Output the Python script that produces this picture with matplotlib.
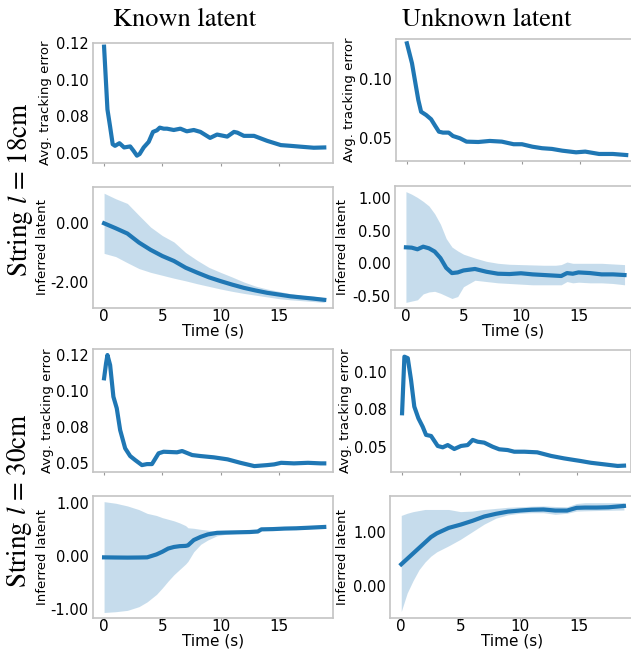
import matplotlib
matplotlib.use("Agg")
import matplotlib.pyplot as plt
from matplotlib.ticker import FormatStrFormatter

# ---- data ----
col_titles = ["Known latent", "Unknown latent"]
row_titles = ["String $l$ = 18cm", "String $l$ = 30cm"]

# tracking error, l = 18cm, known latent
t_err_k18 = [0.0, 0.29, 0.51, 0.74, 0.94, 1.32, 1.72, 2.24, 2.53, 2.82, 3.05, 3.4, 3.83, 4.2,
             4.54, 4.78, 5.12, 5.4, 5.98, 6.55, 7.1, 7.7, 8.27, 9.1, 9.7, 10.57, 11.15, 11.44,
             12.0, 12.87, 14.0, 15.17, 16.0, 16.9, 18.0, 18.9]
err_k18 = [0.1225, 0.0797, 0.0684, 0.056, 0.0549, 0.0567, 0.0538, 0.0545, 0.0515, 0.0482, 0.0493,
           0.0538, 0.0576, 0.0644, 0.0655, 0.0673, 0.0666, 0.0666, 0.0657, 0.0666, 0.0648, 0.0657,
           0.0644, 0.0603, 0.0626, 0.0612, 0.0644, 0.0639, 0.0617, 0.0617, 0.0583, 0.0554, 0.0549,
           0.0543, 0.0536, 0.0538]

# tracking error, l = 18cm, unknown latent
t_err_u18 = [0.0, 0.44, 0.79, 0.99, 1.23, 1.67, 2.1, 2.46, 2.78, 3.13, 3.63, 4.0, 4.6, 5.18, 6.2,
             7.2, 8.25, 9.27, 10.0, 10.9, 11.75, 12.6, 13.5, 14.7, 15.5, 16.7, 17.9, 19.06]
err_u18 = [0.1304, 0.1134, 0.0934, 0.0821, 0.0721, 0.0693, 0.0657, 0.0600, 0.0551, 0.0543, 0.0543,
           0.0514, 0.0495, 0.0466, 0.0463, 0.0472, 0.0466, 0.0444, 0.0444, 0.0423, 0.0410, 0.0404,
           0.0389, 0.0375, 0.0381, 0.0361, 0.0361, 0.0352]

# inferred latent, l = 18cm, known latent
t_lat_k18 = [0, 1, 2, 3, 4, 5, 6, 7, 8, 9, 10, 11, 12, 13, 14, 15, 16, 17, 18, 18.9]
mean_k18 = [0.0, -0.17, -0.35, -0.66, -0.91, -1.12, -1.29, -1.52, -1.69, -1.85, -1.98, -2.1,
            -2.21, -2.3, -2.38, -2.44, -2.5, -2.54, -2.58, -2.62]
upper_k18 = [1.03, 0.84, 0.68, 0.27, -0.13, -0.42, -0.64, -1.0, -1.27, -1.51, -1.68, -1.84,
             -2.01, -2.15, -2.25, -2.33, -2.41, -2.47, -2.5, -2.55]
lower_k18 = [-1.03, -1.14, -1.35, -1.55, -1.68, -1.78, -1.88, -1.97, -2.07, -2.16, -2.25, -2.33,
             -2.4, -2.46, -2.52, -2.58, -2.62, -2.65, -2.68, -2.71]

# inferred latent, l = 18cm, unknown latent
t_lat_u18 = [0, 0.5, 1, 1.5, 2, 2.5, 3, 3.5, 4, 4.5, 5, 6, 7, 8, 9, 10, 11, 12, 13, 13.5, 14,
             14.5, 15, 16, 17, 18, 19]
mean_u18 = [0.245, 0.24, 0.215, 0.255, 0.23, 0.18, 0.08, -0.07, -0.15, -0.14, -0.11, -0.087,
            -0.13, -0.16, -0.165, -0.153, -0.17, -0.18, -0.19, -0.195, -0.15, -0.16, -0.14,
            -0.15, -0.17, -0.17, -0.18]
upper_u18 = [1.10, 1.06, 1.01, 0.95, 0.88, 0.76, 0.60, 0.38, 0.25, 0.19, 0.14, 0.08, 0.03, 0.0,
             -0.015, -0.02, -0.025, -0.03, -0.03, -0.02, 0.02, 0.0, 0.0, 0.0, 0.0, -0.01, -0.02]
lower_u18 = [-0.60, -0.58, -0.56, -0.47, -0.44, -0.43, -0.46, -0.5, -0.54, -0.51, -0.36, -0.26,
             -0.28, -0.3, -0.31, -0.32, -0.33, -0.33, -0.33, -0.33, -0.28, -0.3, -0.29, -0.3,
             -0.3, -0.31, -0.33]

# tracking error, l = 30cm, known latent
t_err_k30 = [0.0, 0.17, 0.29, 0.52, 0.8, 1.09, 1.38, 1.81, 2.24, 2.67, 3.25, 3.68, 4.11, 4.68,
             5.11, 6.26, 6.7, 7.56, 8.28, 9.42, 10.6, 11.7, 12.9, 14.0, 14.6, 15.2, 16.3, 17.5,
             18.6, 18.9]
err_k30 = [0.1088, 0.1192, 0.125, 0.118, 0.096, 0.0879, 0.0728, 0.0601, 0.0547, 0.0519, 0.0484,
           0.0491, 0.0491, 0.0566, 0.0577, 0.0573, 0.0582, 0.0554, 0.0547, 0.0538, 0.0524, 0.0500,
           0.0477, 0.0484, 0.0489, 0.0500, 0.0496, 0.0500, 0.0496, 0.0496]

# tracking error, l = 30cm, unknown latent
t_err_u30 = [0.0, 0.2, 0.49, 0.77, 1.05, 1.4, 1.77, 2.06, 2.49, 3.06, 3.49, 3.92, 4.48, 5.06,
             5.63, 6.06, 6.49, 7.05, 7.77, 8.34, 9.06, 9.63, 10.5, 11.6, 12.8, 13.9, 14.8, 15.3,
             16.2, 17.3, 18.5, 19.05]
err_u30 = [0.0725, 0.1099, 0.1089, 0.0945, 0.0769, 0.0692, 0.0636, 0.0582, 0.0575, 0.0509, 0.0500,
           0.0515, 0.0489, 0.0509, 0.0515, 0.0549, 0.0537, 0.0531, 0.0504, 0.0487, 0.0482, 0.0471,
           0.0471, 0.0467, 0.0443, 0.0427, 0.0416, 0.0410, 0.0398, 0.0388, 0.0377, 0.0379]

# inferred latent, l = 30cm, known latent
t_lat_k30 = [0, 1, 2, 3, 3.7, 4.5, 5, 5.5, 6, 6.5, 7, 7.2, 7.7, 8.3, 8.9, 9.7, 10.5, 11.5, 12.5,
             13.2, 13.5, 14.5, 15.5, 16.5, 17.5, 18.9]
mean_k30 = [-0.025, -0.028, -0.03, -0.028, -0.025, 0.03, 0.08, 0.14, 0.17, 0.185, 0.19, 0.2, 0.3,
            0.36, 0.405, 0.435, 0.44, 0.445, 0.45, 0.46, 0.50, 0.505, 0.515, 0.52, 0.53, 0.545]
upper_k30 = [1.02, 0.99, 0.94, 0.87, 0.80, 0.76, 0.72, 0.69, 0.66, 0.62, 0.57, 0.53, 0.52, 0.50,
             0.485, 0.465, 0.46, 0.46, 0.465, 0.48, 0.52, 0.525, 0.535, 0.54, 0.55, 0.565]
lower_k30 = [-1.06, -1.045, -1.02, -0.95, -0.86, -0.72, -0.6, -0.47, -0.35, -0.25, -0.15, -0.1,
             0.08, 0.22, 0.3, 0.38, 0.41, 0.425, 0.435, 0.445, 0.48, 0.49, 0.5, 0.505, 0.515, 0.53]

# inferred latent, l = 30cm, unknown latent
t_lat_u30 = [0, 0.5, 1, 1.5, 2, 2.5, 3, 4, 5, 6, 7, 8, 9, 10, 11, 12, 13, 14, 14.8, 15.5, 16.5,
             17.5, 18.8]
mean_u30 = [0.40, 0.5, 0.6, 0.7, 0.8, 0.9, 0.97, 1.07, 1.13, 1.2, 1.28, 1.33, 1.37, 1.39, 1.405,
            1.41, 1.39, 1.39, 1.44, 1.445, 1.445, 1.45, 1.475]
upper_u30 = [1.30, 1.34, 1.37, 1.39, 1.41, 1.41, 1.41, 1.41, 1.37, 1.38, 1.41, 1.43, 1.45, 1.46,
             1.47, 1.475, 1.465, 1.46, 1.52, 1.535, 1.535, 1.535, 1.535]
lower_u30 = [-0.47, -0.13, 0.1, 0.3, 0.44, 0.55, 0.63, 0.74, 0.86, 1.0, 1.14, 1.25, 1.31, 1.34,
             1.35, 1.35, 1.32, 1.34, 1.38, 1.385, 1.39, 1.395, 1.40]

# tick labels as printed in the reference
time_ticks = [0, 5, 10, 15]
err_ticks_k18 = [0.05, 0.075, 0.10, 0.125]
err_labels_k18 = ["0.05", "0.08", "0.10", "0.12"]
err_ticks_u18 = [0.05, 0.10]
err_labels_u18 = ["0.05", "0.10"]
lat_ticks_k18 = [-2.0, 0.0]
lat_ticks_u18 = [-0.5, 0.0, 0.5, 1.0]
err_ticks_k30 = [0.05, 0.075, 0.10, 0.125]
err_labels_k30 = ["0.05", "0.08", "0.10", "0.12"]
err_ticks_u30 = [0.05, 0.075, 0.10]
err_labels_u30 = ["0.05", "0.08", "0.10"]
lat_ticks_k30 = [-1.0, 0.0, 1.0]
lat_ticks_u30 = [0.0, 1.0]

W, H = 631, 650
BLUE = "#1f77b4"
SPINE = "#c4c4c4"


def px_axes(fig, left, right, top, bottom):
    return fig.add_axes([left / W, 1 - bottom / H, (right - left) / W, (bottom - top) / H])


def style(ax, ylim, show_x):
    for s in ax.spines.values():
        s.set_color(SPINE)
        s.set_linewidth(1.2)
    ax.set_xlim(-0.95, 19.65)
    ax.set_ylim(*ylim)
    ax.set_xticks(time_ticks)
    ax.tick_params(axis="x", length=2.5, width=0.8, color="#999999", labelsize=11, pad=-2)
    ax.tick_params(axis="y", length=0, labelsize=10.5, pad=3)
    if show_x:
        ax.set_xlabel("Time (s)", fontsize=11, va="top")
        ax.xaxis.set_label_coords(0.5, -0.125)
    else:
        ax.set_xticklabels([])


def err_panel(ax, t, y, ticks, labels, ylim, ylabel_x):
    ax.plot(t, y, color=BLUE, lw=3)
    style(ax, ylim, False)
    ax.set_yticks(ticks)
    ax.set_yticklabels(labels)
    ax.set_ylabel("Avg. tracking error", fontsize=9.5, va="center")
    ax.yaxis.set_label_coords(ylabel_x, 0.5)


def lat_panel(ax, t, mean, lo, hi, ticks, ylim, ylabel_x):
    ax.fill_between(t, lo, hi, color=BLUE, alpha=0.25, lw=0)
    ax.plot(t, mean, color=BLUE, lw=3)
    style(ax, ylim, True)
    ax.set_yticks(ticks)
    ax.yaxis.set_major_formatter(FormatStrFormatter("%.2f"))
    ax.set_ylabel("Inferred latent", fontsize=9.5, va="center")
    ax.yaxis.set_label_coords(ylabel_x, 0.5)


def main() -> None:
    plt.rcParams["mathtext.fontset"] = "stix"
    fig = plt.figure(figsize=(W / 100, H / 100), dpi=100)

    a = px_axes(fig, 93, 333, 43, 163)
    err_panel(a, t_err_k18, err_k18, err_ticks_k18, err_labels_k18, (0.0432, 0.125),
              (46 - 93) / 240)
    b = px_axes(fig, 396, 633, 39, 161)
    err_panel(b, t_err_u18, err_u18, err_ticks_u18, err_labels_u18, (0.0301, 0.1341),
              (350 - 396) / 237)
    c = px_axes(fig, 93, 333, 187, 308)
    lat_panel(c, t_lat_k18, mean_k18, lower_k18, upper_k18, lat_ticks_k18, (-2.90, 1.243),
              (43 - 93) / 240)
    d = px_axes(fig, 395, 632, 186, 308)
    lat_panel(d, t_lat_u18, mean_u18, lower_u18, upper_u18, lat_ticks_u18, (-0.686, 1.186),
              (343 - 395) / 237)
    e = px_axes(fig, 93, 333, 349, 472)
    err_panel(e, t_err_k30, err_k30, err_ticks_k30, err_labels_k30, (0.0436, 0.1292),
              (47 - 93) / 240)
    f = px_axes(fig, 391, 631, 350, 472)
    err_panel(f, t_err_u30, err_u30, err_ticks_u30, err_labels_u30, (0.0337, 0.1143),
              (345 - 391) / 240)
    g = px_axes(fig, 93, 333, 496, 618)
    lat_panel(g, t_lat_k30, mean_k30, lower_k30, upper_k30, lat_ticks_k30, (-1.163, 1.126),
              (43 - 93) / 240)
    h = px_axes(fig, 390, 634, 496, 618)
    lat_panel(h, t_lat_u30, mean_u30, lower_u30, upper_u30, lat_ticks_u30, (-0.589, 1.658),
              (343 - 390) / 244)

    serif = "STIXGeneral"
    fig.text(185 / W, 1 - 20 / H, col_titles[0], ha="center", va="center",
             fontsize=19, family=serif)
    fig.text(487 / W, 1 - 20 / H, col_titles[1], ha="center", va="center",
             fontsize=19, family=serif)
    fig.text(20 / W, 1 - 190 / H, row_titles[0], ha="center", va="center", rotation=90,
             fontsize=19.5, family=serif)
    fig.text(20 / W, 1 - 501 / H, row_titles[1], ha="center", va="center", rotation=90,
             fontsize=19.5, family=serif)

    fig.savefig("out.png", dpi=100)
    plt.close(fig)


if __name__ == "__main__":
    main()
